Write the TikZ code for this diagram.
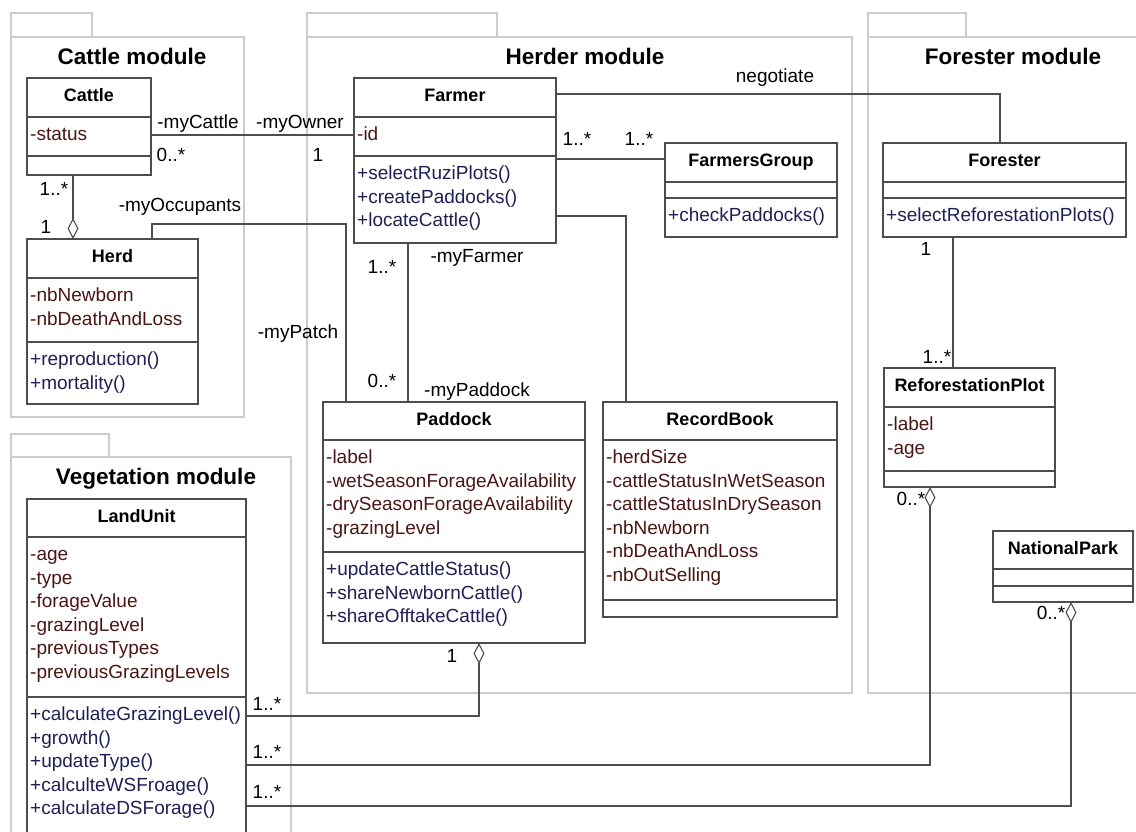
\documentclass[tikz,border=0pt]{standalone}
\usepackage{fontspec}
\setmainfont{Liberation Sans}
\usetikzlibrary{positioning,arrows.meta,calc}
\definecolor{pkgline}{HTML}{CCCCCC}
\definecolor{clsline}{HTML}{4D4D4D}
\definecolor{cattr}{HTML}{4A1515}
\definecolor{cmeth}{HTML}{1F1F55}

\begin{document}
\begin{tikzpicture}[x=1pt, y=-1pt,
  pkg/.style={draw=pkgline, line width=1.4pt},
  cls/.style={draw=clsline, line width=1.1pt, anchor=north west, inner sep=0pt, outer sep=0pt},
  sep/.style={draw=clsline, line width=1.1pt},
  hd/.style={anchor=base, inner sep=0pt, font=\fontsize{22.5}{26}\selectfont\bfseries},
  cname/.style={anchor=base, inner sep=0pt, font=\fontsize{18}{22}\selectfont\bfseries},
  attr/.style={anchor=base west, inner sep=0pt, text=cattr, font=\fontsize{19}{23}\selectfont},
  meth/.style={attr, text=cmeth},
  lbl/.style={anchor=base, inner sep=0pt, font=\fontsize{19}{23}\selectfont},
  assoc/.style={draw=clsline, line width=1.1pt},
  agg/.style={assoc, {Diamond[open, length=21pt, width=11pt]}-},
]
\useasboundingbox (0,0) rectangle (1136,831);
\clip (0,0) rectangle (1136,831);

% ---------- packages ----------
\draw[pkg] (11,13) rectangle (92,37);
\draw[pkg] (11,37) rectangle (244,417);
\node[hd] (t-cattle) at (132,64) {Cattle module};
\draw[pkg] (307,13) rectangle (497,37);
\draw[pkg] (307,37) rectangle (852,693);
\node[hd] (t-herder) at (585,64) {Herder module};
\draw[pkg] (868,13) rectangle (966,37);
\draw[pkg] (868,37) rectangle (1150,693);
\node[hd] (t-forester) at (1013,64) {Forester module};
\draw[pkg] (11,434) rectangle (109,457);
\draw[pkg] (11,457) rectangle (291,850);
\node[hd] (t-veg) at (156,484) {Vegetation module};

% ---------- Cattle ----------
\node[cls, minimum width=124pt, minimum height=97pt] (cattle) at (27,78) {};
\draw[sep] ($(cattle.north west)+(0,39)$) -- ($(cattle.north east)+(0,39)$);
\draw[sep] ($(cattle.north west)+(0,78)$) -- ($(cattle.north east)+(0,78)$);
\node[cname] (cattle-n) at ($(cattle.north)+(0,23.5)$) {Cattle};
\node[attr] (cattle-a0) at ($(cattle.north west)+(3,62.5)$) {-status};

% ---------- Herd ----------
\node[cls, minimum width=171pt, minimum height=165pt] (herd) at (27,239) {};
\draw[sep] ($(herd.north west)+(0,39)$) -- ($(herd.north east)+(0,39)$);
\draw[sep] ($(herd.north west)+(0,103)$) -- ($(herd.north east)+(0,103)$);
\node[cname] (herd-n) at ($(herd.north)+(0,23.5)$) {Herd};
\foreach \t [count=\i from 0] in {-nbNewborn, -nbDeathAndLoss}
  \node[attr] (herd-a\i) at ($(herd.north west)+(3,{62.5+23.5*\i})$) {\t};
\foreach \t [count=\i from 0] in {+reproduction(), +mortality()}
  \node[meth] (herd-m\i) at ($(herd.north west)+(3,{126.5+23.5*\i})$) {\t};

% ---------- Farmer ----------
\node[cls, minimum width=202pt, minimum height=165pt] (farmer) at (354,78) {};
\draw[sep] ($(farmer.north west)+(0,39)$) -- ($(farmer.north east)+(0,39)$);
\draw[sep] ($(farmer.north west)+(0,78)$) -- ($(farmer.north east)+(0,78)$);
\node[cname] (farmer-n) at ($(farmer.north)+(0,23.5)$) {Farmer};
\node[attr] (farmer-a0) at ($(farmer.north west)+(3,62.5)$) {-id};
\foreach \t [count=\i from 0] in {+selectRuziPlots(), +createPaddocks(), +locateCattle()}
  \node[meth] (farmer-m\i) at ($(farmer.north west)+(3,{101.5+23.5*\i})$) {\t};

% ---------- FarmersGroup ----------
\node[cls, minimum width=172pt, minimum height=94pt] (fgroup) at (665,143) {};
\draw[sep] ($(fgroup.north west)+(0,39)$) -- ($(fgroup.north east)+(0,39)$);
\draw[sep] ($(fgroup.north west)+(0,55)$) -- ($(fgroup.north east)+(0,55)$);
\node[cname] (fgroup-n) at ($(fgroup.north)+(0,23.5)$) {FarmersGroup};
\node[meth] (fgroup-m0) at ($(fgroup.north west)+(3,78.5)$) {+checkPaddocks()};

% ---------- Paddock ----------
\node[cls, minimum width=262pt, minimum height=241pt] (paddock) at (323,402) {};
\draw[sep] ($(paddock.north west)+(0,38)$) -- ($(paddock.north east)+(0,38)$);
\draw[sep] ($(paddock.north west)+(0,150)$) -- ($(paddock.north east)+(0,150)$);
\node[cname] (paddock-n) at ($(paddock.north)+(0,23.5)$) {Paddock};
\foreach \t [count=\i from 0] in {-label, -wetSeasonForageAvailability, -drySeasonForageAvailability, -grazingLevel}
  \node[attr] (paddock-a\i) at ($(paddock.north west)+(3,{61.5+23.5*\i})$) {\t};
\foreach \t [count=\i from 0] in {+updateCattleStatus(), +shareNewbornCattle(), +shareOfftakeCattle()}
  \node[meth] (paddock-m\i) at ($(paddock.north west)+(3,{173.5+23.5*\i})$) {\t};

% ---------- RecordBook ----------
\node[cls, minimum width=234pt, minimum height=215pt] (record) at (603,402) {};
\draw[sep] ($(record.north west)+(0,38)$) -- ($(record.north east)+(0,38)$);
\draw[sep] ($(record.north west)+(0,198)$) -- ($(record.north east)+(0,198)$);
\node[cname] (record-n) at ($(record.north)+(0,23.5)$) {RecordBook};
\foreach \t [count=\i from 0] in {-herdSize, -cattleStatusInWetSeason, -cattleStatusInDrySeason, -nbNewborn, -nbDeathAndLoss, -nbOutSelling}
  \node[attr] (record-a\i) at ($(record.north west)+(3,{61.5+23.5*\i})$) {\t};

% ---------- Forester ----------
\node[cls, minimum width=243pt, minimum height=94pt] (forester) at (883,143) {};
\draw[sep] ($(forester.north west)+(0,39)$) -- ($(forester.north east)+(0,39)$);
\draw[sep] ($(forester.north west)+(0,55)$) -- ($(forester.north east)+(0,55)$);
\node[cname] (forester-n) at ($(forester.north)+(0,23.5)$) {Forester};
\node[meth] (forester-m0) at ($(forester.north west)+(3,78.5)$) {+selectReforestationPlots()};

% ---------- ReforestationPlot ----------
\node[cls, minimum width=171pt, minimum height=119pt] (refplot) at (884,368) {};
\draw[sep] ($(refplot.north west)+(0,39)$) -- ($(refplot.north east)+(0,39)$);
\draw[sep] ($(refplot.north west)+(0,103)$) -- ($(refplot.north east)+(0,103)$);
\node[cname] (refplot-n) at ($(refplot.north)+(0,23.5)$) {ReforestationPlot};
\foreach \t [count=\i from 0] in {-label, -age}
  \node[attr] (refplot-a\i) at ($(refplot.north west)+(3,{62.5+23.5*\i})$) {\t};

% ---------- NationalPark ----------
\node[cls, minimum width=140pt, minimum height=71pt] (npark) at (993,531) {};
\draw[sep] ($(npark.north west)+(0,38)$) -- ($(npark.north east)+(0,38)$);
\draw[sep] ($(npark.north west)+(0,55)$) -- ($(npark.north east)+(0,55)$);
\node[cname] (npark-n) at ($(npark.north)+(0,23.5)$) {NationalPark};

% ---------- LandUnit ----------
\node[cls, minimum width=219pt, minimum height=360pt] (landunit) at (27,499) {};
\draw[sep] ($(landunit.north west)+(0,38)$) -- ($(landunit.north east)+(0,38)$);
\draw[sep] ($(landunit.north west)+(0,198)$) -- ($(landunit.north east)+(0,198)$);
\node[cname] (landunit-n) at ($(landunit.north)+(0,23.5)$) {LandUnit};
\foreach \t [count=\i from 0] in {-age, -type, -forageValue, -grazingLevel, -previousTypes, -previousGrazingLevels}
  \node[attr] (landunit-a\i) at ($(landunit.north west)+(3,{61.5+23.5*\i})$) {\t};
\foreach \t [count=\i from 0] in {+calculateGrazingLevel(), +growth(), +updateType(), +calculteWSFroage(), +calculateDSForage()}
  \node[meth] (landunit-m\i) at ($(landunit.north west)+(3,{221.5+23.5*\i})$) {\t};

% ---------- associations ----------
\draw[assoc] ($(cattle.north east)+(0,57)$) -- ($(farmer.north west)+(0,57)$);
\node[lbl] (l-mycattle) at (198,128) {-myCattle};
\node[lbl] (m-cattle) at (171,161) {0..*};
\node[lbl] (l-myowner) at (300,128) {-myOwner};
\node[lbl] (m-owner) at (318,161) {1};

\draw[agg] ($(herd.north west)+(46,0)$) -- ($(cattle.south west)+(46,0)$);
\node[lbl] (m-herdcattle) at (54,195) {1..*};
\node[lbl] (m-herd) at (46,233) {1};

\draw[assoc] ($(herd.north west)+(125,0)$) |- ($(paddock.north west)+(23,-178)$) -- ($(paddock.north west)+(23,0)$);
\node[lbl] (l-occupants) at (180,211) {-myOccupants};
\node[lbl] (l-patch) at (298,338) {-myPatch};

\draw[assoc] ($(farmer.south west)+(54,0)$) -- ($(paddock.north west)+(85,0)$);
\node[lbl] (m-farmer) at (382,273) {1..*};
\node[lbl] (l-myfarmer) at (477,262) {-myFarmer};
\node[lbl] (m-paddock) at (382,387) {0..*};
\node[lbl] (l-mypaddock) at (477,396) {-myPaddock};

\draw[assoc] ($(farmer.north east)+(0,81)$) -- ($(fgroup.north west)+(0,16)$);
\node[lbl] (m-fgroup1) at (577,145) {1..*};
\node[lbl] (m-fgroup2) at (639,145) {1..*};

\draw[assoc] ($(farmer.north east)+(0,138)$) -| ($(record.north west)+(23,0)$);

\draw[assoc] ($(farmer.north east)+(0,16)$) -| ($(forester.north west)+(117,0)$);
\node[lbl] (l-negotiate) at (775,82) {negotiate};

\draw[assoc] ($(forester.south west)+(70,0)$) -- ($(refplot.north west)+(69,0)$);
\node[lbl] (m-forester) at (926,255) {1};
\node[lbl] (m-refplot) at (937,363) {1..*};

\draw[agg] ($(paddock.south west)+(156,0)$) |- ($(landunit.north east)+(0,217)$);
\node[lbl] (m-paddockland) at (452,662) {1};
\node[lbl] (m-land1) at (267,710) {1..*};

\draw[agg] ($(refplot.south west)+(46,0)$) |- ($(landunit.north east)+(0,266)$);
\node[lbl] (m-refplotland) at (911,505) {0..*};
\node[lbl] (m-land2) at (267,758) {1..*};

\draw[agg] ($(npark.south west)+(78,0)$) |- ($(landunit.north east)+(0,307)$);
\node[lbl] (m-nparkland) at (1051,619) {0..*};
\node[lbl] (m-land3) at (267,798) {1..*};
\end{tikzpicture}
\end{document}
